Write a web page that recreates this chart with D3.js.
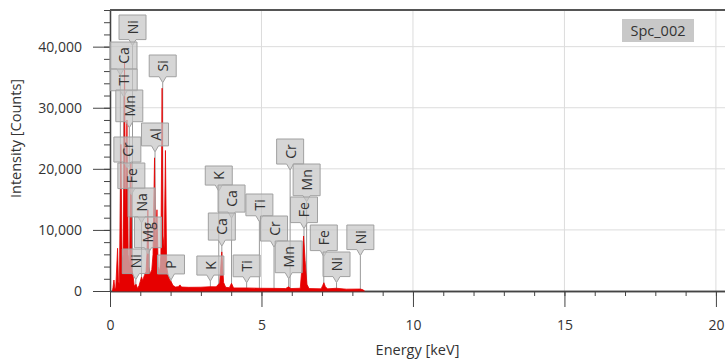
<!DOCTYPE html>
<html><head><meta charset="utf-8">
<script src="https://cdn.jsdelivr.net/npm/d3@7"></script>
<style>
body{margin:0;background:#fff;}
text{font-family:"Open Sans",sans-serif;}
</style></head><body>
<svg id="c" width="725" height="360"></svg>
<script>
// ---- data ----
const seriesName = "Spc_002";
const energy = [0.08,0.10,0.13,0.16,0.19,0.25,0.28,0.31,0.36,0.40,0.44,0.48,0.51,0.56,0.60,0.65,0.69,0.72,0.76,0.80,
  0.86,0.91,0.96,1.00,1.04,1.08,1.13,1.19,1.22,1.25,1.28,1.33,1.38,1.42,1.47,1.50,1.55,1.59,1.64,1.68,
  1.72,1.75,1.79,1.83,1.87,1.92,1.97,2.02,2.08,2.16,2.25,2.31,2.36,2.6,3.0,3.3,3.5,3.62,3.69,3.75,
  3.82,3.94,4.01,4.08,4.5,4.95,5.4,5.8,5.89,5.97,6.28,6.33,6.39,6.44,6.50,6.57,6.97,7.02,7.06,7.11,
  7.18,7.47,7.8,8.26,8.35,8.40];
const counts = [0,600,1800,400,500,7000,1500,1200,24000,5000,6000,37500,12000,28000,6000,4000,21000,3500,2600,800,
  1100,400,900,1600,2300,1700,2500,3200,6000,13300,4000,2800,3500,6000,21800,7000,13300,4000,3200,6000,
  33200,9000,7000,23000,4000,2500,1800,1500,900,650,700,1000,650,600,620,700,680,1300,6400,1400,
  600,550,1260,500,500,450,430,400,680,400,450,3500,9000,5000,1100,400,350,900,1360,700,
  350,450,300,320,200,0];
const labelElements = ["Ni","Ca","Ti","Mn","Cr","Fe","Na","Mg","Ni","P","Si","Al",
  "K","K","Ca","Ca","Ti","Ti","Cr","Cr","Mn","Mn","Fe","Fe","Ni","Ni"];
const labelEnergies = [0.743,0.341,0.452,0.637,0.573,0.705,1.041,1.254,0.851,2.013,1.740,1.486,
  3.590,3.313,4.012,3.691,4.931,4.510,5.414,5.946,6.490,5.898,6.403,7.057,7.477,8.264];
const xTicks = [0,5,10,15,20];
const yTicks = [0,10000,20000,30000,40000];
// label box layout (top edge, px)
const labelTops = [15,42,69,90,137,163,188,217,249,255,55,123,
  166,256,185,213,194,255,216,139,164,241,197,225,252,225];

// ---- chart ----
const svg = d3.select("#c");
const L = 110, R = 725, T = 10, B = 291;
const x = d3.scaleLinear([0, 20.3], [L, R]);
const y = d3.scaleLinear([0, 46000], [B, T]);

// grid
const grid = svg.append("g");
grid.selectAll("line.v").data(xTicks.filter(d => d > 0)).join("line")
  .attr("x1", d => x(d)).attr("x2", d => x(d)).attr("y1", T).attr("y2", B)
  .attr("stroke", "#dcdcdc").attr("stroke-width", 1);
grid.selectAll("line.h").data(yTicks.filter(d => d > 0)).join("line")
  .attr("x1", L).attr("x2", R).attr("y1", d => y(d)).attr("y2", d => y(d))
  .attr("stroke", "#dcdcdc").attr("stroke-width", 1);

// axes
const axisColor = "#444";
function styleAxis(g) {
  g.selectAll("line").attr("stroke", axisColor);
  g.selectAll("path").attr("stroke", axisColor).attr("stroke-width", 1.3);
  g.selectAll("text").attr("fill", "#333").style("font-size", "14px").style("font-family", "'Open Sans',sans-serif");
}
svg.append("g").attr("transform", `translate(0,${B})`)
  .call(d3.axisBottom(x).tickValues(d3.range(0, 21, 1)).tickSize(5).tickSizeOuter(0).tickFormat(""))
  .call(styleAxis);
svg.append("g").attr("transform", `translate(0,${B})`)
  .call(d3.axisBottom(x).tickValues(xTicks).tickSize(16).tickSizeOuter(0).tickPadding(13).tickFormat(d3.format("d")))
  .call(styleAxis);
svg.append("g").attr("transform", `translate(${L},0)`)
  .call(d3.axisLeft(y).tickValues(d3.range(0, 46001, 2000)).tickSize(6).tickSizeOuter(0).tickFormat(""))
  .call(styleAxis);
svg.append("g").attr("transform", `translate(${L},0)`)
  .call(d3.axisLeft(y).tickValues(yTicks).tickSize(17).tickSizeOuter(0).tickPadding(11).tickFormat(d3.format(",")))
  .call(styleAxis);

// top border
svg.append("line").attr("x1", L).attr("x2", R).attr("y1", T).attr("y2", T)
  .attr("stroke", "#555").attr("stroke-width", 2);

// leader lines
const labels = labelElements.map((el, i) => ({el, e: labelEnergies[i], top: labelTops[i]}));
const tmp = svg.append("text").style("font-size", "14px");
labels.forEach(d => {
  tmp.text(d.el);
  d.len = tmp.node().getComputedTextLength();
  d.h = d.len + 10.5;
  d.cx = x(d.e);
  d.w = 27;
  d.left = Math.max(L, d.cx - d.w / 2);
  d.bottom = d.top + d.h;
  d.tip = d.bottom + 6;
});
tmp.remove();

svg.append("g").selectAll("line").data(labels).join("line")
  .attr("x1", d => d.cx).attr("x2", d => d.cx)
  .attr("y1", d => d.tip).attr("y2", B - 2)
  .attr("stroke", "#999").attr("stroke-width", 1);

// spectrum
const spec = energy.map((e, i) => ({e, c: counts[i]}));
svg.append("path").datum(spec)
  .attr("d", d3.area().x(d => x(d.e)).y0(y(0)).y1(d => y(d.c)))
  .attr("fill", "#e60000").attr("stroke", "#e60000").attr("stroke-width", 0.8)
  .attr("stroke-linejoin", "round");

// label boxes
const lg = svg.append("g");
labels.forEach(d => {
  const p = `M${d.left},${d.top}H${d.left + d.w}V${d.bottom}H${d.cx + 3.5}L${d.cx},${d.tip}L${d.cx - 3.5},${d.bottom}H${d.left}Z`;
  lg.append("path").attr("d", p)
    .attr("fill", "#c4c4c4").attr("fill-opacity", 0.7)
    .attr("stroke", "#a0a0a0").attr("stroke-width", 1);
  lg.append("text")
    .attr("transform", `translate(${d.left + d.w / 2},${d.top + d.h / 2}) rotate(-90)`)
    .attr("text-anchor", "middle").attr("dominant-baseline", "central")
    .style("font-size", "14px").attr("fill", "#333").text(d.el);
});

// legend
svg.append("rect").attr("x", 622).attr("y", 19).attr("width", 72).attr("height", 23).attr("fill", "#c8c8c8");
svg.append("text").attr("x", 658).attr("y", 30.5).attr("text-anchor", "middle").attr("dominant-baseline", "central")
  .style("font-size", "14.5px").attr("fill", "#333").text(seriesName);

// axis titles
svg.append("text").attr("x", (L + R) / 2).attr("y", 355).attr("text-anchor", "middle")
  .style("font-size", "14.5px").attr("fill", "#333").text("Energy [keV]");
svg.append("text").attr("transform", "translate(21,138.5) rotate(-90)").attr("text-anchor", "middle")
  .style("font-size", "14.5px").attr("fill", "#333").text("Intensity [Counts]");
</script>
</body></html>
